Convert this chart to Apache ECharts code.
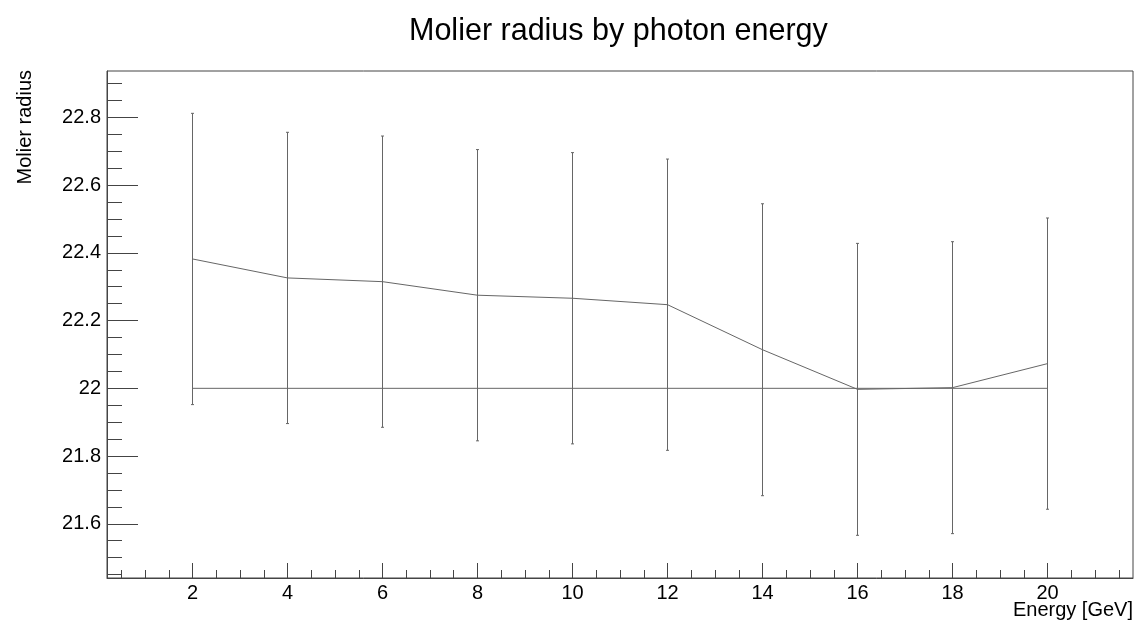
<!DOCTYPE html>
<html>
<head>
<meta charset="utf-8">
<script src="https://cdn.jsdelivr.net/npm/echarts@6/dist/echarts.min.js"></script>
<style>
  html, body { margin: 0; padding: 0; background: #fff; }
  #chart { width: 1138px; height: 625px; }
</style>
</head>
<body>
<div id="chart"></div>
<script>
// photon energy [GeV] and measured Moliere radius with its error
var energies = [2, 4, 6, 8, 10, 12, 14, 16, 18, 20];
var radius = [22.382, 22.326, 22.315, 22.275, 22.266, 22.247, 22.114, 21.997, 22.002, 22.073];
var radiusErr = [0.430, 0.430, 0.430, 0.430, 0.430, 0.430, 0.431, 0.431, 0.431, 0.430];
// reference level
var refLine = [[2, 22], [20, 22]];

var xTicks = [2, 4, 6, 8, 10, 12, 14, 16, 18, 20];
var yTicks = [21.6, 21.8, 22, 22.2, 22.4, 22.6, 22.8];

var xMin = 0.2, xMax = 21.8;
var yMin = 21.44, yMax = 22.937;

// minor tick positions
var xMinor = [];
for (var i = 1; i <= 43; i++) xMinor.push(i * 0.5);
var yMinor = [];
for (var j = 0; j <= 29; j++) yMinor.push(+(21.45 + j * 0.05).toFixed(2));

var font = 'Liberation Sans, Arial, Helvetica, sans-serif';
var lineCol = '#666';

var points = energies.map(function (e, k) { return [e, radius[k]]; });
var bars = energies.map(function (e, k) { return [e, radius[k] - radiusErr[k], radius[k] + radiusErr[k]]; });

var chart = echarts.init(document.getElementById('chart'));

chart.setOption({
  animation: false,
  backgroundColor: '#fff',
  title: {
    text: 'Molier radius by photon energy',
    left: 409,
    top: 16,
    padding: 0,
    textStyle: { fontFamily: font, fontSize: 30.5, fontWeight: 'normal', color: '#000' }
  },
  grid: {
    left: 107, right: 5, top: 71, bottom: 47,
    show: true, borderColor: '#444', borderWidth: 1
  },
  xAxis: [{
    type: 'value', min: xMin, max: xMax, position: 'bottom',
    axisLine: { onZero: false, lineStyle: { color: '#444' } },
    axisTick: { inside: true, length: 15, customValues: xTicks, lineStyle: { color: '#444' } },
    axisLabel: { customValues: xTicks, margin: 5, color: '#000', fontFamily: font, fontSize: 20 },
    splitLine: { show: false }
  }, {
    type: 'value', min: xMin, max: xMax, position: 'bottom', offset: 0,
    axisLine: { show: false, onZero: false },
    axisTick: { inside: true, length: 8, customValues: xMinor, lineStyle: { color: '#444' } },
    axisLabel: { show: false },
    splitLine: { show: false }
  }],
  yAxis: [{
    type: 'value', min: yMin, max: yMax, position: 'left',
    axisLine: { show: true, onZero: false, lineStyle: { color: '#444' } },
    axisTick: { show: true, inside: true, length: 31, customValues: yTicks, lineStyle: { color: '#444' } },
    axisLabel: { customValues: yTicks, margin: 6, color: '#000', fontFamily: font, fontSize: 20 },
    splitLine: { show: false }
  }, {
    type: 'value', min: yMin, max: yMax, position: 'left', offset: 0,
    axisLine: { show: false, onZero: false },
    axisTick: { show: true, inside: true, length: 15, customValues: yMinor, lineStyle: { color: '#444' } },
    axisLabel: { show: false },
    splitLine: { show: false }
  }],
  graphic: [{
    type: 'text', x: 1133, y: 610,
    style: { text: 'Energy [GeV]', align: 'right', verticalAlign: 'middle', fontFamily: font, fontSize: 20, fill: '#000' }
  }, {
    type: 'text', x: 25, y: 70, rotation: Math.PI / 2,
    style: { text: 'Molier radius', align: 'right', verticalAlign: 'middle', fontFamily: font, fontSize: 20, fill: '#000' }
  }],
  series: [{
    type: 'line', data: refLine, symbol: 'none', silent: true,
    lineStyle: { color: lineCol, width: 1 }
  }, {
    type: 'line', data: points, symbol: 'none', silent: true,
    lineStyle: { color: lineCol, width: 1 }
  }, {
    type: 'custom', data: bars, silent: true,
    renderItem: function (params, api) {
      var x = api.value(0);
      var lo = api.coord([x, api.value(1)]);
      var hi = api.coord([x, api.value(2)]);
      var st = { stroke: lineCol, lineWidth: 1 };
      return {
        type: 'group',
        children: [
          { type: 'line', shape: { x1: lo[0], y1: lo[1], x2: hi[0], y2: hi[1] }, style: st },
          { type: 'line', shape: { x1: lo[0] - 1.5, y1: lo[1], x2: lo[0] + 1.5, y2: lo[1] }, style: st },
          { type: 'line', shape: { x1: hi[0] - 1.5, y1: hi[1], x2: hi[0] + 1.5, y2: hi[1] }, style: st }
        ]
      };
    }
  }]
});
</script>
</body>
</html>
